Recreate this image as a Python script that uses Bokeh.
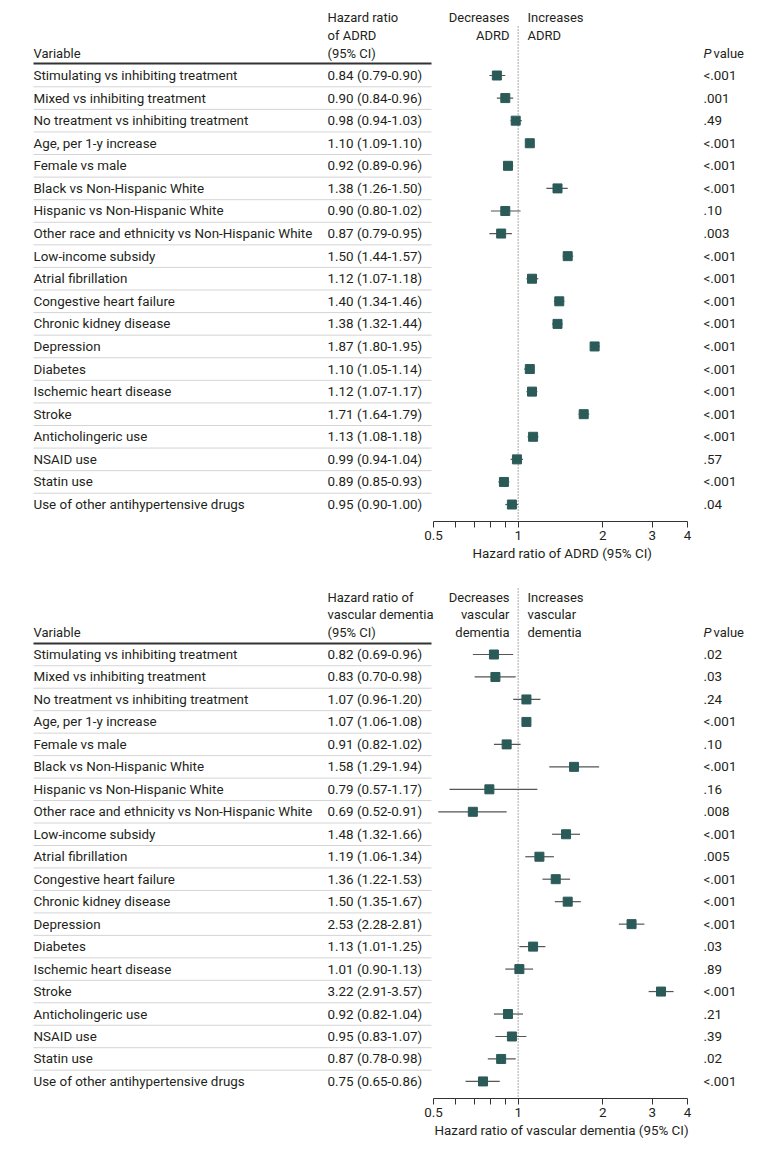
import math
from bokeh.plotting import figure
from bokeh.models import Range1d, LogScale, LogAxis, FixedTicker, Title
from bokeh.layouts import column
from bokeh.embed import file_html
from bokeh.resources import INLINE
from bokeh.core.properties import value

# ---------------- data ----------------
variables = [
    "Stimulating vs inhibiting treatment",
    "Mixed vs inhibiting treatment",
    "No treatment vs inhibiting treatment",
    "Age, per 1-y increase",
    "Female vs male",
    "Black vs Non-Hispanic White",
    "Hispanic vs Non-Hispanic White",
    "Other race and ethnicity vs Non-Hispanic White",
    "Low-income subsidy",
    "Atrial fibrillation",
    "Congestive heart failure",
    "Chronic kidney disease",
    "Depression",
    "Diabetes",
    "Ischemic heart disease",
    "Stroke",
    "Anticholingeric use",
    "NSAID use",
    "Statin use",
    "Use of other antihypertensive drugs",
]

adrd_hr = [0.84, 0.90, 0.98, 1.10, 0.92, 1.38, 0.90, 0.87, 1.50, 1.12,
           1.40, 1.38, 1.87, 1.10, 1.12, 1.71, 1.13, 0.99, 0.89, 0.95]
adrd_lo = [0.79, 0.84, 0.94, 1.09, 0.89, 1.26, 0.80, 0.79, 1.44, 1.07,
           1.34, 1.32, 1.80, 1.05, 1.07, 1.64, 1.08, 0.94, 0.85, 0.90]
adrd_hi = [0.90, 0.96, 1.03, 1.10, 0.96, 1.50, 1.02, 0.95, 1.57, 1.18,
           1.46, 1.44, 1.95, 1.14, 1.17, 1.79, 1.18, 1.04, 0.93, 1.00]
adrd_p = ["<.001", ".001", ".49", "<.001", "<.001", "<.001", ".10", ".003", "<.001", "<.001",
          "<.001", "<.001", "<.001", "<.001", "<.001", "<.001", "<.001", ".57", "<.001", ".04"]

vd_hr = [0.82, 0.83, 1.07, 1.07, 0.91, 1.58, 0.79, 0.69, 1.48, 1.19,
         1.36, 1.50, 2.53, 1.13, 1.01, 3.22, 0.92, 0.95, 0.87, 0.75]
vd_lo = [0.69, 0.70, 0.96, 1.06, 0.82, 1.29, 0.57, 0.52, 1.32, 1.06,
         1.22, 1.35, 2.28, 1.01, 0.90, 2.91, 0.82, 0.83, 0.78, 0.65]
vd_hi = [0.96, 0.98, 1.20, 1.08, 1.02, 1.94, 1.17, 0.91, 1.66, 1.34,
         1.53, 1.67, 2.81, 1.25, 1.13, 3.57, 1.04, 1.07, 0.98, 0.86]
vd_p = [".02", ".03", ".24", "<.001", ".10", "<.001", ".16", ".008", "<.001", ".005",
        "<.001", "<.001", "<.001", ".03", ".89", "<.001", ".21", ".39", ".02", "<.001"]

tick_values = [0.5, 0.6, 0.7, 0.8, 0.9, 1, 2, 3, 4]
tick_labels = {0.5: "0.5", 1: "1", 2: "2", 3: "3", 4: "4"}

# ---------------- style ----------------
FONT = "Roboto"
HFONT = "Roboto"
TXT = "#231f20"
MARK = "#2b5b58"
FS = "13.4px"
HFS = "13px"

FIG_W = 764
X_VAR = 33
X_CI = 327
X_SEP_END = 431
X_DEC = 509
X_INC = 527
X_P = 703
AX_LEFT = 433     # px where 0.5 sits
AX_RIGHT = 687    # px where 4 sits
PX_PER_DOUBLING = (AX_RIGHT - AX_LEFT) / 3.0


def panel(hr, lo, hi, pv, ci_head, dec_head, inc_head, axis_title,
          fig_top, fig_h, frame_bottom, row0, step, head_ys, line_y, dot_top,
          title_w):
    n = len(variables)
    ys = list(range(n))
    to_row = lambda px: (px - row0) / step
    y_start = to_row(frame_bottom)
    y_end = to_row(fig_top)

    hr_start = 0.5 * 2 ** (-AX_LEFT / PX_PER_DOUBLING)
    hr_end = 4 * 2 ** ((FIG_W - AX_RIGHT) / PX_PER_DOUBLING)

    p = figure(width=FIG_W, height=fig_h, output_backend="svg", toolbar_location=None,
               x_range=Range1d(0, FIG_W), y_range=Range1d(y_start, y_end),
               x_axis_location=None, y_axis_location=None,
               min_border_left=0, min_border_right=0, min_border_top=0,
               min_border_bottom=fig_h - (frame_bottom - fig_top))
    p.outline_line_color = None
    p.xgrid.visible = False
    p.ygrid.visible = False
    p.extra_x_ranges = {"hr": Range1d(hr_start, hr_end)}
    p.extra_x_scales = {"hr": LogScale()}

    ax = LogAxis(x_range_name="hr", bounds=(0.5, 4),
                 ticker=FixedTicker(ticks=tick_values, minor_ticks=[]),
                 major_label_overrides={t: tick_labels.get(t, "") for t in tick_values})
    ax.major_tick_in = 0
    ax.major_tick_out = 6
    ax.minor_tick_in = 0
    ax.minor_tick_out = 0
    ax.axis_line_color = "#333333"
    ax.major_tick_line_color = "#333333"
    ax.major_label_text_font = FONT
    ax.major_label_text_font_size = FS
    ax.major_label_text_color = TXT
    ax.major_label_standoff = 3
    p.add_layout(ax, "below")

    cx = (AX_LEFT + AX_RIGHT) / 2.0
    p.add_layout(Title(text=axis_title, align="left", offset=cx - title_w / 2.0,
                       text_font=FONT, text_font_size=FS, text_color=TXT,
                       text_font_style="normal", standoff=2), "below")

    # row separators and header rule
    p.segment(x0=[X_VAR] * (n - 1), x1=[X_SEP_END] * (n - 1),
              y0=[i + 0.5 for i in range(n - 1)], y1=[i + 0.5 for i in range(n - 1)],
              line_color="#d4d4d4", line_width=1)
    p.segment(x0=[X_VAR], x1=[X_SEP_END], y0=[to_row(line_y)], y1=[to_row(line_y)],
              line_color="#333333", line_width=2)

    # reference line at HR = 1
    p.segment(x0=[1], x1=[1], y0=[to_row(dot_top)], y1=[y_start], x_range_name="hr",
              line_color="#555555", line_width=1, line_dash="1 2")

    # CIs and points
    p.segment(x0=lo, x1=hi, y0=ys, y1=ys, x_range_name="hr",
              line_color="#555555", line_width=1.2)
    p.scatter(x=hr, y=ys, x_range_name="hr", marker="square", size=9,
              fill_color=MARK, line_color=MARK)

    tkw = dict(text_font=value(FONT), text_font_size=FS, text_color=TXT,
               text_baseline="middle")
    ci_text = [f"{h:.2f} ({l:.2f}-{u:.2f})" for h, l, u in zip(hr, lo, hi)]
    p.text(x=[X_VAR] * n, y=ys, text=variables, text_align="left", **tkw)
    p.text(x=[X_CI] * n, y=ys, text=ci_text, text_align="left", **tkw)
    p.text(x=[X_P] * n, y=ys, text=pv, text_align="left", **tkw)

    # headers
    hkw = dict(text_font=value(HFONT), text_font_size=HFS, text_color=TXT,
               text_baseline="middle")
    hy = [to_row(v) for v in head_ys]
    p.text(x=[X_VAR], y=[hy[-1]], text=["Variable"], text_align="left", **hkw)
    k = len(ci_head)
    p.text(x=[X_CI] * k, y=hy[-k:], text=ci_head, text_align="left", **hkw)
    k = len(dec_head)
    p.text(x=[X_DEC] * k, y=hy[:k], text=dec_head, text_align="right", **hkw)
    p.text(x=[X_INC] * k, y=hy[:k], text=inc_head, text_align="left", **hkw)
    p.text(x=[X_P], y=[hy[-1]], text=["P"], text_align="left",
           text_font_style="italic", **hkw)
    p.text(x=[X_P + 10], y=[hy[-1]], text=["value"], text_align="left", **hkw)
    return p


p1 = panel(adrd_hr, adrd_lo, adrd_hi, adrd_p,
           ["Hazard ratio", "of ADRD", "(95% CI)"],
           ["Decreases", "ADRD"], ["Increases", "ADRD"],
           "Hazard ratio of ADRD (95% CI)",
           fig_top=0, fig_h=571, frame_bottom=521, row0=75, step=22.58,
           head_ys=[17, 35, 53], line_y=63, dot_top=26, title_w=176)

p2 = panel(vd_hr, vd_lo, vd_hi, vd_p,
           ["Hazard ratio of", "vascular dementia", "(95% CI)"],
           ["Decreases", "vascular", "dementia"], ["Increases", "vascular", "dementia"],
           "Hazard ratio of vascular dementia (95% CI)",
           fig_top=571, fig_h=572, frame_bottom=1098, row0=654, step=22.47,
           head_ys=[597, 614, 632], line_y=643, dot_top=588, title_w=252)

layout = column(p1, p2, spacing=0)
open("out.html", "w").write(file_html(layout, INLINE))
